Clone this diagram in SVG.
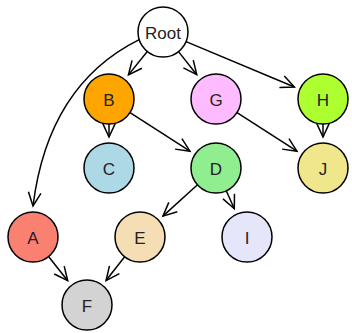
<svg xmlns="http://www.w3.org/2000/svg" width="352" height="333" viewBox="0 0 352 333">
<style>
.node circle{stroke:#000;stroke-width:1.5}
.node text{font-family:"Liberation Sans",Arial,sans-serif;font-size:17px;fill:#222;text-anchor:middle}
.edges path{fill:none;stroke:#000;stroke-width:1.5;marker-end:url(#arr)}
</style>
<defs>
<marker id="arr" markerUnits="userSpaceOnUse" markerWidth="20" markerHeight="20" refX="0" refY="0" viewBox="-16 -10 20 20" orient="auto" overflow="visible">
<path d="M-13.6,-6.3 L0,0 L-13.6,6.3" fill="none" stroke="#000" stroke-width="1.5"/>
</marker>
</defs>
<rect width="352" height="333" fill="#fff"/>
<g class="edges">
<path d="M147.31,51.47 L128.45,74.86"/>
<path d="M178.51,51.61 L196.77,74.69"/>
<path d="M186.06,41.66 L294.41,87.03"/>
<path d="M139.2,39.6 Q48,85 33,206"/>
<path d="M109,124 L109,137"/>
<path d="M130.01,112.55 L189.95,151.2"/>
<path d="M237.01,112.55 L296.95,151.2"/>
<path d="M323,124 L323,137"/>
<path d="M197.49,184.8 L162.95,216.16"/>
<path d="M226.25,190.8 L234.3,208.72"/>
<path d="M48.55,256.58 L67.72,280.72"/>
<path d="M124.63,256.72 L106.06,280.55"/>
</g>
<g id="node-Root" class="node"><circle cx="163" cy="32" r="25" fill="#ffffff"/><text x="163" y="39">Root</text></g>
<g id="node-B" class="node"><circle cx="109" cy="99" r="25" fill="#ffa500"/><text x="109" y="106">B</text></g>
<g id="node-G" class="node"><circle cx="216" cy="99" r="25" fill="#ffbbff"/><text x="216" y="106">G</text></g>
<g id="node-H" class="node"><circle cx="323" cy="99" r="25" fill="#adff2f"/><text x="323" y="106">H</text></g>
<g id="node-C" class="node"><circle cx="109" cy="168" r="25" fill="#add8e6"/><text x="109" y="175">C</text></g>
<g id="node-D" class="node"><circle cx="216" cy="168" r="25" fill="#90ee90"/><text x="216" y="175">D</text></g>
<g id="node-J" class="node"><circle cx="323" cy="168" r="25" fill="#f0e68c"/><text x="323" y="175">J</text></g>
<g id="node-A" class="node"><circle cx="33" cy="237" r="25" fill="#fa8072"/><text x="33" y="244">A</text></g>
<g id="node-E" class="node"><circle cx="140" cy="237" r="25" fill="#f5deb3"/><text x="140" y="244">E</text></g>
<g id="node-I" class="node"><circle cx="247" cy="237" r="25" fill="#e6e6fa"/><text x="247" y="244">I</text></g>
<g id="node-F" class="node"><circle cx="87" cy="305" r="25" fill="#d3d3d3"/><text x="87" y="312">F</text></g>
</svg>
